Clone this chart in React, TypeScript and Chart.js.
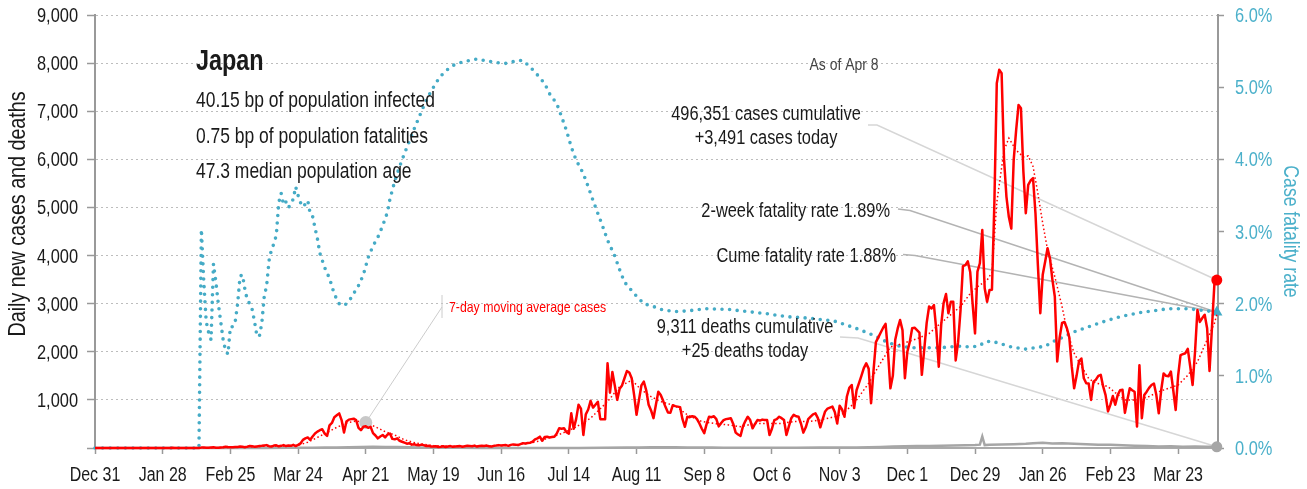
import React, { useEffect, useRef } from "react";
import { Chart, registerables } from "chart.js";

Chart.register(...registerables);

const FONT = "'Liberation Sans', Arial, sans-serif";
const NARROW = 0.82;
const TEAL = "#45abc6";
const TEAL_TEXT = "#4bb0ca";
const RED = "#ff0000";
const GRAY = "#a6a6a6";
const INK = "#1a1a1a";

// x axis: day index, day 0 = Dec 31, 2019
const tickDays = [0, 28, 56, 84, 112, 140, 168, 196, 224, 252, 280, 308, 336, 364, 392, 420, 448];
const tickLabels = ["Dec 31", "Jan 28", "Feb 25", "Mar 24", "Apr 21", "May 19", "Jun 16", "Jul 14", "Aug 11", "Sep 8", "Oct 6", "Nov 3", "Dec 1", "Dec 29", "Jan 26", "Feb 23", "Mar 23"];

// daily new cases, one value per day from day 0
const dailyCases = [
  0, 0, 0, 0, 0, 0, 0, 0, 0, 0, 0, 0, 0, 0,
  0, 1, 0, 0, 0, 0, 0, 0, 1, 0, 0, 1, 2, 1,
  1, 2, 1, 1, 3, 0, 0, 1, 0, 1, 2, 1, 0, 0,
  2, 1, 8, 10, 5, 4, 12, 15, 7, 5, 10, 14, 25, 20,
  18, 15, 20, 22, 30, 25, 16, 28, 42, 35, 27, 33, 40, 45,
  52, 60, 38, 30, 50, 55, 35, 45, 60, 40, 50, 45, 65, 40,
  65, 95, 170, 200, 220, 170, 240, 300, 340, 370, 390, 300, 250, 470,
  520, 640, 680, 720, 580, 320, 550, 590, 600, 610, 580, 420, 370, 440,
  450, 420, 440, 310, 260, 200, 240, 270, 220, 280, 300, 190, 180, 200,
  150, 130, 110, 90, 100, 70, 80, 60, 55, 70, 60, 40, 45, 30,
  30, 35, 20, 25, 35, 20, 30, 40, 25, 30, 35, 40, 25, 35,
  45, 40, 35, 50, 30, 40, 45, 40, 50, 35, 30, 45, 50, 60,
  50, 55, 60, 45, 65, 75, 70, 60, 80, 100, 95, 105, 110, 130,
  180, 200, 235, 150, 230, 235, 220, 230, 235, 300, 410, 400, 410, 330,
  300, 720, 400, 600, 900, 820, 270, 700, 800, 980, 840, 900, 960, 600,
  600, 600, 1760, 1150, 1580, 1300, 1000, 1230, 1300, 1450, 1600, 1570, 1450, 1100,
  690, 1000, 1300, 1380, 1200, 900, 780, 620, 900, 1170, 1100, 980, 850, 740,
  735, 890, 870, 860, 850, 600, 440, 650, 640, 660, 650, 600, 510, 400,
  310, 500, 650, 640, 660, 600, 450, 520, 580, 600, 610, 620, 500, 320,
  280, 250, 450, 560, 650, 580, 410, 500, 580, 570, 590, 580, 580, 270,
  400, 580, 600, 650, 620, 580, 270, 450, 620, 690, 660, 650, 510, 320,
  430, 600, 650, 700, 720, 620, 430, 600, 760, 820, 840, 860, 750, 510,
  880, 800, 650, 1070, 1250, 1310, 830, 1200, 1350, 1500, 1660, 1760, 1650, 930,
  1600, 2200, 2300, 2400, 2500, 2580, 2000, 1240, 1500, 2250, 2480, 2660, 2450, 1450,
  2000, 2200, 2490, 2500, 2450, 2400, 1520, 2050, 2600, 2940, 2900, 2970, 2450, 1690,
  2560, 3010, 3200, 2800, 3040, 3040, 1820, 2200, 2860, 3780, 3800, 3880, 3660, 3000,
  2380, 3665, 3840, 4530, 3320, 3040, 3285, 3290, 5085, 7580, 7860, 7790, 6000, 5220,
  4800, 4560, 5990, 6600, 7130, 7060, 5750, 4880, 5470, 5560, 5610, 4880, 3800, 2800,
  3600, 3870, 4150, 3940, 3500, 3150, 1800, 2300, 2600, 2620, 2490, 2300, 1700, 1240,
  1500, 1800, 1860, 1450, 1345, 1340, 1000, 1380, 1420, 1500, 1520, 1280, 1100, 760,
  900, 1080, 900, 1100, 1200, 1210, 730, 1000, 1240, 1200, 1170, 445, 1720, 620,
  1100, 1170, 1250, 1310, 1340, 1100, 720, 1200, 1550, 1500, 1490, 1590, 1200, 790,
  1500, 1930, 1950, 1970, 2060, 1700, 1310, 2000, 2870, 2620, 2700, 2770, 2490, 1600,
  2500, 3400, 3491,
];

// 7-day moving average of cases (read at these days)
const avgDays = [0, 40, 50, 60, 70, 80, 84, 88, 92, 96, 100, 104, 108, 112, 116, 120, 124, 128, 133, 140, 150, 160, 170, 176, 180, 184, 188, 192, 198, 205, 212, 217, 222, 226, 230, 234, 240, 245, 251, 256, 262, 267, 273, 278, 284, 289, 295, 300, 306, 309, 314, 320, 324, 329, 334, 340, 345, 349, 353, 358, 362, 365, 369, 371, 373, 376, 378, 381, 384, 386, 388, 390, 392, 394, 397, 400, 402, 405, 408, 411, 414, 416, 419, 422, 426, 431, 436, 440, 444, 448, 452, 456, 460, 463, 464];
const avgCases = [0, 1, 6, 18, 35, 45, 55, 120, 220, 320, 430, 520, 560, 530, 440, 340, 270, 170, 100, 50, 32, 40, 55, 75, 100, 150, 215, 280, 410, 620, 965, 1275, 1410, 1210, 1067, 965, 875, 690, 550, 510, 480, 443, 510, 510, 510, 550, 550, 582, 650, 700, 930, 1345, 1690, 2100, 2170, 2270, 2380, 2560, 2730, 2940, 3210, 3350, 3490, 3650, 5100, 6190, 6440, 6190, 6050, 6070, 5850, 5290, 4670, 4120, 3560, 2940, 2450, 1970, 1700, 1445, 1345, 1330, 1275, 1150, 1000, 1000, 1070, 1170, 1240, 1310, 1510, 1790, 2250, 2590, 2770];
const avgMarkerDay = 112;

// daily deaths (read at these days)
const deathDays = [0, 50, 60, 70, 80, 90, 95, 100, 105, 110, 115, 120, 125, 130, 135, 140, 145, 150, 160, 170, 180, 190, 200, 210, 220, 225, 230, 235, 240, 245, 250, 255, 260, 270, 280, 290, 300, 310, 315, 320, 325, 330, 335, 340, 345, 350, 355, 360, 364, 366, 367, 368, 370, 375, 380, 385, 388, 392, 396, 400, 405, 410, 415, 420, 425, 430, 435, 440, 445, 450, 455, 460, 464];
const deathValues = [0, 0, 1, 2, 3, 5, 8, 12, 15, 20, 25, 22, 20, 18, 12, 10, 6, 4, 2, 1, 1, 0, 2, 4, 8, 12, 15, 13, 15, 12, 10, 8, 7, 6, 7, 6, 8, 10, 12, 18, 22, 30, 35, 40, 42, 45, 50, 55, 60, 70, 240, 60, 65, 75, 80, 90, 100, 110, 95, 100, 90, 80, 70, 65, 55, 45, 40, 30, 35, 25, 30, 25, 25];

// case fatality rate, % (read at these days)
const cfrDays = [0, 43, 44, 45, 46, 47, 48, 49, 50, 51, 52, 53, 54, 55, 56, 57, 58, 59, 60, 61, 62, 63, 64, 65, 66, 67, 68, 69, 70, 71, 72, 73, 74, 75, 76, 77, 78, 79, 80, 81, 82, 83, 84, 85, 86, 87, 88, 89, 90, 91, 92, 93, 95, 97, 99, 101, 103, 105, 107, 109, 111, 113, 115, 117, 119, 121, 122, 124, 126, 128, 130, 132, 134, 136, 138, 140, 142, 144, 146, 148, 152, 158, 161, 166, 170, 175, 177, 180, 183, 186, 188, 191, 193, 195, 197, 199, 202, 204, 206, 208, 210, 212, 215, 217, 219, 223, 227, 231, 235, 241, 245, 253, 262, 270, 278, 286, 295, 303, 307, 310, 313, 317, 320, 324, 328, 333, 338, 345, 350, 357, 363, 366, 368, 371, 375, 379, 385, 389, 393, 396, 400, 405, 411, 418, 424, 433, 444, 452, 460, 464];
const cfrValues = [0, 0, 3.03, 2.3, 1.75, 1.6, 1.5, 2.55, 2.3, 2.0, 1.75, 1.5, 1.35, 1.3, 1.68, 1.68, 1.75, 2.0, 2.38, 2.4, 2.2, 2.05, 2.0, 1.92, 1.75, 1.55, 1.55, 1.73, 2.1, 2.25, 2.6, 2.75, 2.83, 2.95, 3.4, 3.53, 3.37, 3.41, 3.33, 3.38, 3.45, 3.62, 3.5, 3.4, 3.34, 3.38, 3.43, 3.25, 3.21, 3.05, 2.9, 2.7, 2.5, 2.35, 2.13, 2.0, 1.97, 2.03, 2.14, 2.25, 2.4, 2.64, 2.8, 2.92, 3.08, 3.27, 3.45, 3.7, 3.9, 4.08, 4.25, 4.42, 4.58, 4.74, 4.88, 5.0, 5.11, 5.19, 5.25, 5.3, 5.35, 5.39, 5.37, 5.34, 5.33, 5.37, 5.37, 5.28, 5.17, 5.05, 4.91, 4.77, 4.59, 4.4, 4.17, 3.99, 3.8, 3.62, 3.43, 3.25, 3.07, 2.88, 2.66, 2.47, 2.3, 2.14, 2.0, 1.96, 1.91, 1.89, 1.9, 1.93, 1.92, 1.89, 1.86, 1.82, 1.8, 1.77, 1.75, 1.71, 1.68, 1.63, 1.59, 1.53, 1.46, 1.41, 1.39, 1.39, 1.39, 1.41, 1.4, 1.42, 1.47, 1.48, 1.44, 1.4, 1.37, 1.39, 1.41, 1.47, 1.53, 1.61, 1.68, 1.76, 1.82, 1.88, 1.93, 1.93, 1.9, 1.88];

const country = "Japan";
const infoLines = ["40.15 bp of population infected", "0.75 bp of population fatalities", "47.3 median population age"];
const asOf = "As of Apr 8";
const casesNote = ["496,351 cases cumulative", "+3,491 cases today"];
const twoWeekNote = "2-week fatality rate 1.89%";
const cumeNote = "Cume fatality rate 1.88%";
const deathsNote = ["9,311 deaths cumulative", "+25 deaths today"];
const avgNote = "7-day moving average cases";
const leftTitle = "Daily new cases and deaths";
const rightTitle = "Case fatality rate";

const xy = (xs: number[], ys: number[]) => xs.map((x, i) => ({ x, y: ys[i] }));

function polyline(ctx: CanvasRenderingContext2D, pts: number[][], color: string, width: number) {
  ctx.beginPath();
  ctx.moveTo(pts[0][0], pts[0][1]);
  for (let i = 1; i < pts.length; i++) ctx.lineTo(pts[i][0], pts[i][1]);
  ctx.strokeStyle = color;
  ctx.lineWidth = width;
  ctx.stroke();
}

// condensed text: regular face squeezed horizontally
function text(
  ctx: CanvasRenderingContext2D,
  s: string,
  x: number,
  y: number,
  align: CanvasTextAlign,
  size: number,
  color: string,
  opts: { bold?: boolean; rotate?: number; squeeze?: number; baseline?: CanvasTextBaseline } = {}
) {
  ctx.save();
  ctx.translate(x, y);
  if (opts.rotate) ctx.rotate(opts.rotate);
  ctx.scale(opts.squeeze ?? NARROW, 1);
  ctx.font = `${opts.bold ? "bold " : ""}${size}px ${FONT}`;
  ctx.fillStyle = color;
  ctx.textAlign = align;
  ctx.textBaseline = opts.baseline ?? "alphabetic";
  ctx.fillText(s, 0, 0);
  ctx.restore();
}

const annotationPlugin = {
  id: "annotations",
  beforeDatasetsDraw(chart: any) {
    const { ctx, scales } = chart;
    const { x, y, y1 } = scales;
    const lastDay = dailyCases.length - 1;
    const ex = x.getPixelForValue(lastDay);
    const cy = y.getPixelForValue(dailyCases[lastDay]);
    const fy = y1.getPixelForValue(cfrValues[cfrValues.length - 1]);
    const dy = y.getPixelForValue(deathValues[deathValues.length - 1]);
    ctx.save();
    polyline(ctx, [[868, 125], [877, 125], [ex, cy]], "#d6d6d6", 1.5);
    polyline(ctx, [[898, 209], [910, 210.5], [ex, fy]], "#b3b3b3", 1.5);
    polyline(ctx, [[903, 254.5], [915, 255.5], [ex, fy]], "#b3b3b3", 1.5);
    polyline(ctx, [[840, 337], [858, 338], [ex, dy]], "#d6d6d6", 1.5);
    const mi = avgDays.indexOf(avgMarkerDay);
    const mx = x.getPixelForValue(avgMarkerDay);
    const my = y.getPixelForValue(avgCases[mi]);
    polyline(ctx, [[442, 295], [442, 318]], "#cccccc", 1);
    polyline(ctx, [[442, 307], [mx, my]], "#cccccc", 1);
    ctx.restore();
  },
  afterDraw(chart: any) {
    const { ctx, scales, chartArea } = chart;
    const { x, y, y1 } = scales;

    // tick labels, placed by the scales
    x.ticks.forEach((t: any) => {
      const i = tickDays.indexOf(t.value);
      if (i < 0) return;
      text(ctx, tickLabels[i], x.getPixelForValue(t.value), 481, "center", 19.5, INK);
    });
    y.ticks.forEach((t: any) => {
      if (t.value === 0) return;
      text(ctx, Number(t.value).toLocaleString("en-US"), 78, y.getPixelForValue(t.value) + 7, "right", 20, INK);
    });
    y1.ticks.forEach((t: any) => {
      text(ctx, Number(t.value).toFixed(1) + "%", 1235, y1.getPixelForValue(t.value) + 7, "left", 20, TEAL_TEXT);
    });

    // axis titles
    text(ctx, leftTitle, 18, 214, "center", 24, INK, { rotate: -Math.PI / 2, baseline: "middle" });
    text(ctx, rightTitle, 1290, (chartArea.top + chartArea.bottom) / 2, "center", 21.5, TEAL_TEXT, {
      rotate: Math.PI / 2,
      baseline: "middle",
    });

    // headline block
    text(ctx, country, 196, 70, "left", 30, INK, { bold: true, squeeze: 0.78 });
    infoLines.forEach((t, i) => text(ctx, t, 196, 107 + i * 35.5, "left", 21.3, INK));

    text(ctx, asOf, 844, 70, "center", 17, "#444");
    text(ctx, casesNote[0], 766, 120, "center", 20, INK);
    text(ctx, casesNote[1], 766, 144, "center", 20, INK);
    text(ctx, twoWeekNote, 890, 217, "right", 20, INK);
    text(ctx, cumeNote, 896, 262, "right", 20, INK);
    text(ctx, deathsNote[0], 745, 333, "center", 20, INK);
    text(ctx, deathsNote[1], 745, 357, "center", 20, INK);
    text(ctx, avgNote, 449, 312, "left", 15, RED);
  },
};

export default function App() {
  const canvasRef = useRef<HTMLCanvasElement | null>(null);

  useEffect(() => {
    if (!canvasRef.current) return;
    const lastDay = dailyCases.length - 1;

    const chart = new Chart(canvasRef.current, {
      type: "line",
      data: {
        datasets: [
          {
            label: "Daily cases",
            data: dailyCases.map((v, i) => ({ x: i, y: v })),
            borderColor: RED,
            backgroundColor: RED,
            borderWidth: 2.5,
            borderJoinStyle: "round",
            pointRadius: (c: any) => (c.dataIndex === lastDay ? 5.5 : 0),
            pointBackgroundColor: RED,
            pointBorderWidth: 0,
            yAxisID: "y",
            order: 0,
            clip: false,
          },
          {
            label: "7-day average",
            data: xy(avgDays, avgCases),
            borderColor: RED,
            borderWidth: 1.5,
            borderDash: [1.5, 2.5],
            pointRadius: (c: any) => (avgDays[c.dataIndex] === avgMarkerDay ? 6.5 : 0),
            pointBackgroundColor: "#c8c8c8",
            pointBorderWidth: 0,
            yAxisID: "y",
            order: 1,
            clip: false,
          },
          {
            label: "Deaths",
            data: xy(deathDays, deathValues),
            borderColor: GRAY,
            borderWidth: 2.5,
            pointRadius: (c: any) => (c.dataIndex === deathDays.length - 1 ? 5.5 : 0),
            pointBackgroundColor: GRAY,
            pointBorderWidth: 0,
            yAxisID: "y",
            order: 2,
            clip: false,
          },
          {
            label: "Case fatality rate",
            data: xy(cfrDays, cfrValues),
            borderColor: TEAL,
            borderWidth: 3.6,
            borderDash: [0, 7.6],
            borderCapStyle: "round",
            pointRadius: (c: any) => (c.dataIndex === cfrDays.length - 1 ? 6.5 : 0),
            pointStyle: "triangle",
            pointBackgroundColor: TEAL,
            pointBorderWidth: 0,
            yAxisID: "y1",
            order: 3,
            clip: false,
          },
        ],
      },
      options: {
        animation: false,
        responsive: false,
        events: [],
        layout: { padding: { top: 15, left: 0, right: 0, bottom: 0 } },
        elements: { line: { tension: 0 } },
        plugins: { legend: { display: false }, tooltip: { enabled: false } },
        scales: {
          x: {
            type: "linear",
            min: 0,
            max: 464.5,
            afterBuildTicks: (s: any) => {
              s.ticks = tickDays.map((v) => ({ value: v }));
            },
            afterFit: (s: any) => {
              s.height = 41;
            },
            ticks: { display: false, autoSkip: false, maxRotation: 0 },
            grid: { drawOnChartArea: false, drawTicks: true, tickLength: 6, tickColor: "#999", tickWidth: 1.5 },
            border: { display: true, color: "#aaa", width: 2 },
          },
          y: {
            position: "left",
            min: 0,
            max: 9000,
            afterFit: (s: any) => {
              s.width = 95;
            },
            ticks: { display: false, stepSize: 1000 },
            grid: {
              color: (c: any) => (c.tick && c.tick.value === 0 ? "rgba(0,0,0,0)" : "#bdbdbd"),
              lineWidth: 1,
              drawTicks: true,
              tickLength: 8,
              tickColor: "#999",
              tickWidth: 1.5,
              tickBorderDash: [],
            },
            border: { display: true, color: "#999", width: 2, dash: [2, 3] },
          },
          y1: {
            position: "right",
            min: 0,
            max: 6,
            afterFit: (s: any) => {
              s.width = 89;
            },
            ticks: { display: false, stepSize: 1 },
            grid: { drawOnChartArea: false, drawTicks: true, tickLength: 6, tickColor: "#999", tickWidth: 1.5 },
            border: { display: true, color: "#999", width: 2 },
          },
        },
      },
      plugins: [annotationPlugin],
    } as any);

    return () => chart.destroy();
  }, []);

  return (
    <div style={{ position: "absolute", left: 0, top: 0, width: 1307, height: 489, background: "#fff" }}>
      <canvas ref={canvasRef} width={1307} height={489} style={{ display: "block", width: 1307, height: 489 }} />
    </div>
  );
}
